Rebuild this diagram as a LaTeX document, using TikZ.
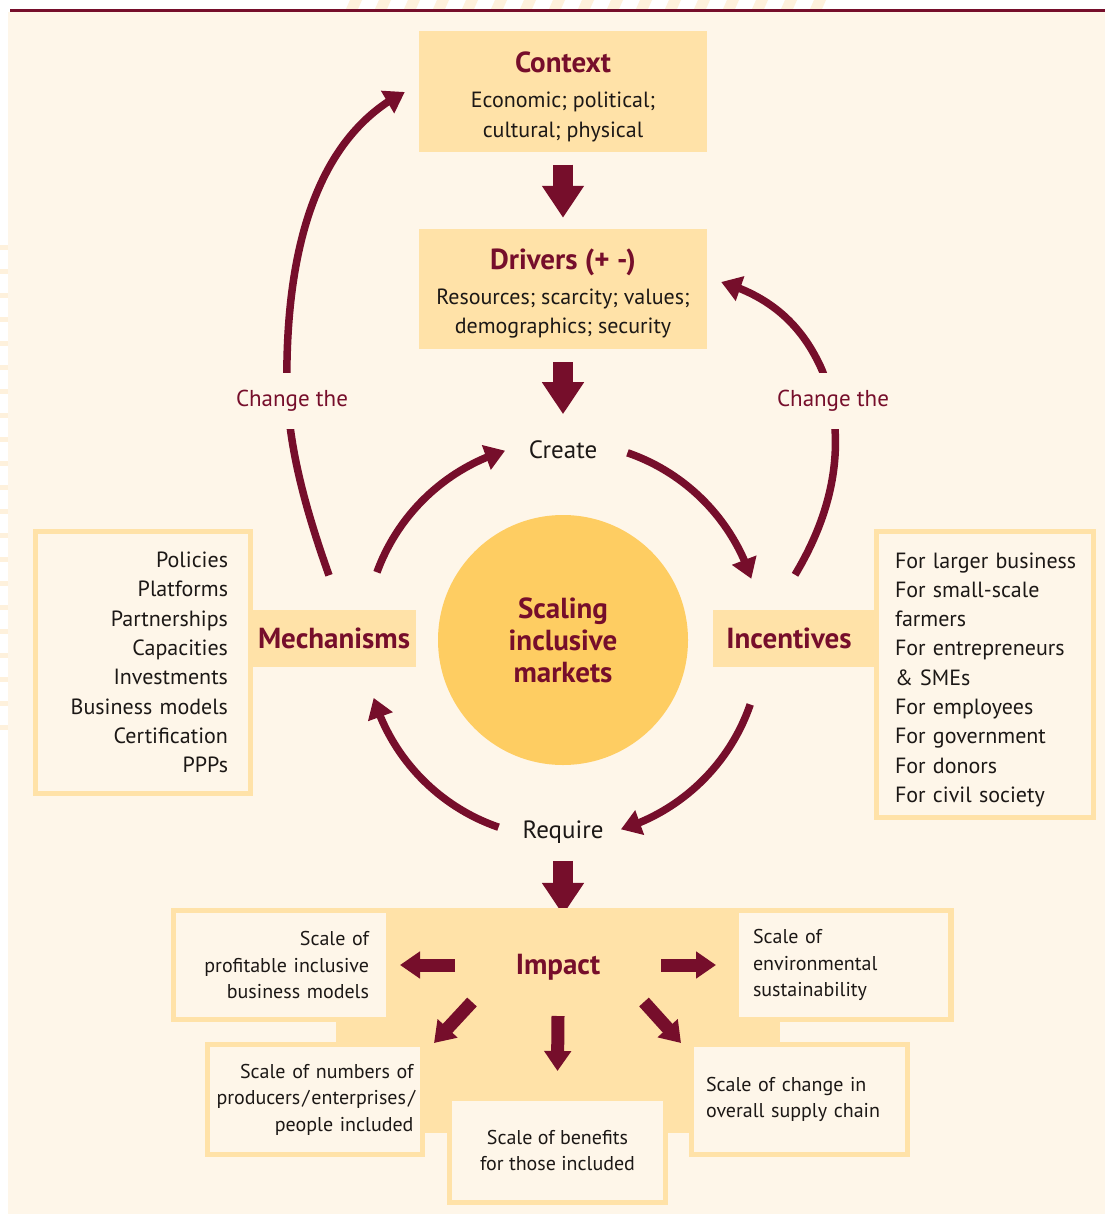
\documentclass[tikz,border=0pt]{standalone}
\usepackage{fontspec}
\setmainfont{PT Sans}
\usetikzlibrary{arrows.meta,bending}
\hyphenpenalty=10000
\exhyphenpenalty=10000

\definecolor{maroon}{RGB}{118,14,43}
\definecolor{boxfill}{RGB}{255,226,168}
\definecolor{cream}{RGB}{254,246,233}
\definecolor{sun}{RGB}{254,205,98}
\definecolor{ink}{RGB}{28,24,22}
\definecolor{stripe}{RGB}{254,241,220}

\newcommand{\bodyfont}{\fontsize{22}{29.3}\selectfont}
\newcommand{\headfont}{\fontsize{29}{32}\selectfont\bfseries}
\newcommand{\stepfont}{\fontsize{25}{30}\selectfont}
\newcommand{\impfont}{\fontsize{20}{26.5}\selectfont}

\tikzset{
  topbox/.style={fill=boxfill, minimum width=288pt, minimum height=121pt, inner sep=0pt,
    align=center, font=\bodyfont, text=ink},
  tagbox/.style={fill=boxfill, minimum width=164pt, minimum height=57pt, inner sep=0pt,
    font=\headfont, text=maroon},
  listbox/.style={draw=boxfill, line width=5pt, fill=cream, inner sep=0pt,
    font=\bodyfont, text=ink},
  impbox/.style={draw=boxfill, line width=5pt, fill=cream, inner sep=0pt,
    font=\impfont, text=ink},
  flow/.style={draw=maroon, line width=7.5pt, -{Triangle[length=20pt,width=25pt]}},
  blockarrow/.style={draw=maroon, line width=20pt, -{Triangle[length=32pt,width=40pt]}},
  smallblock/.style={draw=maroon, line width=13pt, -{Triangle[length=20pt,width=26pt]}},
  changelabel/.style={font=\fontsize{23}{28}\selectfont, text=maroon, fill=cream,
    inner xsep=3pt, inner ysep=17pt}
}

\begin{document}
\begin{tikzpicture}[x=1pt, y=-1pt]
\useasboundingbox (0,0) rectangle (1105,1214);
\fill[white] (0,0) rectangle (1105,1214);
\foreach \i in {0,...,16}
  \fill[stripe] ({350+29*\i},0) -- ++(12,0) -- ++(-4,9) -- ++(-12,0) -- cycle;
\foreach \i in {0,...,20}
  \fill[stripe] (0,{245+24*\i}) rectangle ++(8,5);
\fill[cream] (8,12) rectangle (1105,1214);
\draw[maroon, line width=2.5pt] (10,10.5) -- (1105,10.5);

\node[topbox] (context) at (563,92)
  {\rule{0pt}{30pt}{\headfont\color{maroon}Context}\\[6pt]Economic; political;\\cultural; physical};
\node[topbox, minimum height=120pt] (drivers) at (563,289)
  {\rule{0pt}{30pt}{\headfont\color{maroon}Drivers (+ -)}\\[6pt]Resources; scarcity; values;\\demographics; security};
\node[font=\stepfont, text=ink] (create) at (563,450) {Create};
\node[circle, fill=sun, minimum size=250pt, inner sep=0pt, align=center,
  font=\headfont, text=maroon] (core) at (563,640) {Scaling\\inclusive\\markets};

\node[listbox, minimum width=215pt, minimum height=262pt, text width=170pt, align=right]
  (mechlist) at (143,662.5)
  {Policies\\Platforms\\Partnerships\\Capacities\\Investments\\Business models\\Certification\\PPPs};
\node[tagbox] (mech) at (334,638) {Mechanisms};

\node[listbox, minimum width=217pt, minimum height=286pt, text width=180pt, align=left]
  (inclist) at (985,674.5)
  {\rule{0pt}{26pt}\mbox{For larger business}\\For small-scale\\farmers\\For entrepreneurs\\\& SMEs\\For employees\\For government\\For donors\\For civil society};
\node[tagbox] (inc) at (795,638.5) {\hspace*{-12pt}Incentives};

\node[font=\stepfont, text=ink] (require) at (563,832) {Require};

\draw[blockarrow] ([yshift=-12pt]context.south) -- ([yshift=11pt]drivers.north);
\draw[blockarrow] ([yshift=-13pt]drivers.south) -- ([yshift=-65pt]drivers.south);
\draw[blockarrow] ([yshift=-14pt]require.south) -- ([yshift=-68pt]require.south);

\draw[flow] (core.center) ++(160:198pt) arc[start angle=160, end angle=107, radius=198pt];
\draw[flow] (core.center) ++(71:198pt) arc[start angle=71, end angle=18, radius=198pt];
\draw[flow] (core.center) ++(-19:198pt) arc[start angle=-19, end angle=-73, radius=198pt];
\draw[flow] (core.center) ++(-109:198pt) arc[start angle=-109, end angle=-163, radius=198pt];

\draw[flow] ([shift={(-5,-34)}]mech.north) .. controls (295,480) and (285,420) .. (287,360)
  .. controls (290,220) and (330,130) .. ([xshift=-14pt]context.west);
\draw[flow] ([yshift=35pt]inc.north) .. controls (840,500) and (845,430) .. (822,370)
  .. controls (800,320) and (765,295) .. ([shift={(14,-7)}]drivers.east);
\node[changelabel] (chgL) at (292,401) {Change the};
\node[changelabel] (chgR) at (833,401) {Change the};

\fill[boxfill] (171,908) rectangle (954,1022);
\fill[boxfill] (336,1022) rectangle (780,1133);
\node[impbox, minimum width=215pt, minimum height=109pt, text width=176pt, align=right]
  (pUL) at (281,965) {Scale of\\profitable inclusive\\business models};
\node[impbox, minimum width=214pt, minimum height=109pt, text width=181pt, align=left]
  (pUR) at (843.5,965) {Scale of\\environmental\\sustainability};
\node[impbox, minimum width=215pt, minimum height=110pt, text width=197pt, align=right]
  (pLL) at (315,1099.5) {Scale of numbers of\\producers\kern2pt/\kern2pt enterprises\kern2pt/\\people included};
\node[impbox, minimum width=216pt, minimum height=104pt, align=center]
  (pBC) at (557.5,1150.5) {Scale of benefits\\for those included};
\node[impbox, minimum width=216pt, minimum height=110pt, text width=187pt, align=left]
  (pLR) at (799.5,1099.5) {Scale of change in\\overall supply chain};
\node[font=\headfont, text=maroon] (impact) at (558,967) {Impact};

\draw[smallblock] ([shift={(-103,-2)}]impact.center) -- ([xshift=9pt]pUL.east);
\draw[smallblock] ([shift={(103,-2)}]impact.center) -- ([xshift=-18pt]pUR.west);
\draw[smallblock] ([shift={(-86,35)}]impact.center) -- ([shift={(9,1)}]pLL.north east);
\draw[smallblock] ([shift={(0,49)}]impact.center) -- ([yshift=25pt]pBC.north);
\draw[smallblock] ([shift={(86,35)}]impact.center) -- ([shift={(-8,1)}]pLR.north west);
\end{tikzpicture}
\end{document}
